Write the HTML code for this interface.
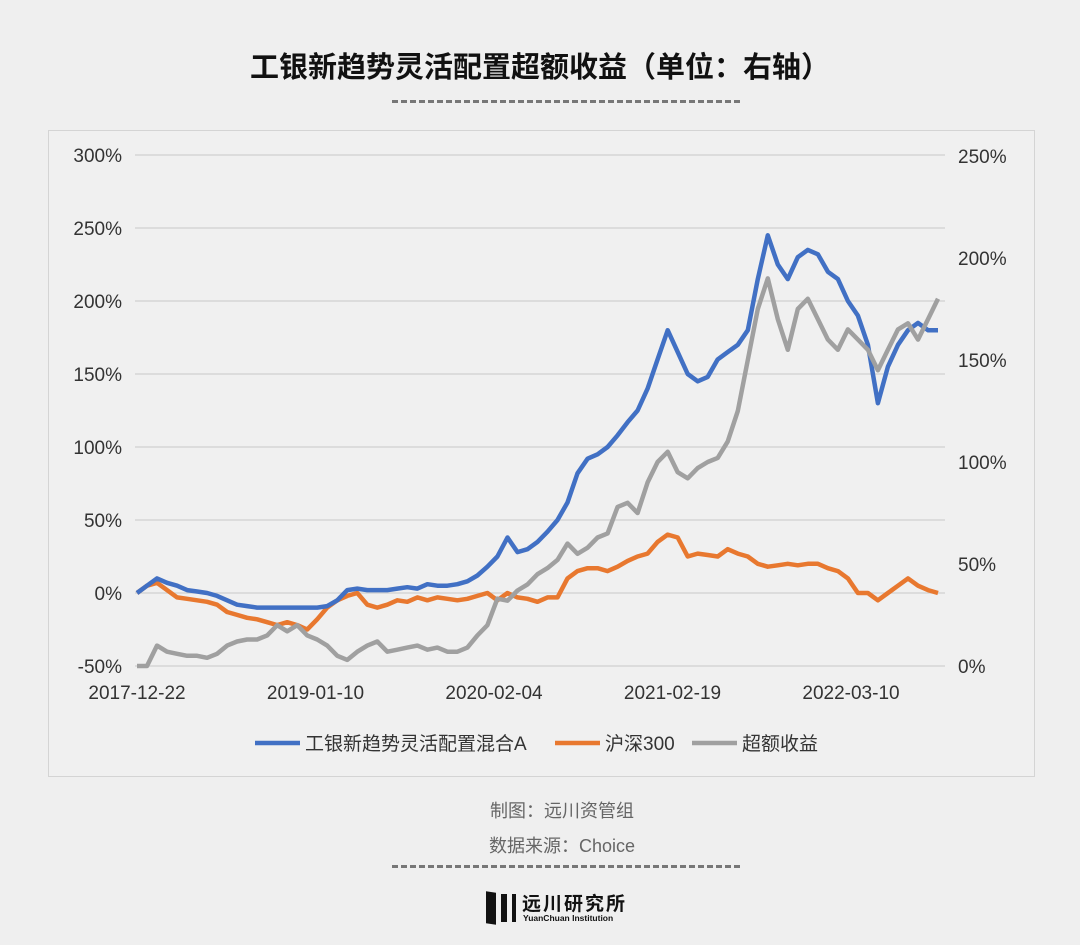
<!DOCTYPE html>
<html><head><meta charset="utf-8">
<style>
html,body{margin:0;padding:0;background:#efefef;}
body{width:1080px;height:945px;position:relative;overflow:hidden;font-family:"Liberation Sans","Noto Sans CJK SC",sans-serif;}
.t{position:absolute;white-space:nowrap;}
</style></head>
<body>
<div class="t" style="left:0;width:1080px;text-align:center;top:44px;font-size:29px;font-weight:bold;color:#111;">工银新趋势灵活配置超额收益（单位：右轴）</div>
<div style="position:absolute;left:392px;top:100px;width:348px;border-top:3px dashed #777;"></div>
<svg id="chart" width="1080" height="945" style="position:absolute;left:0;top:0;">
<rect x="48.5" y="130.5" width="986" height="646" fill="#f0f0f0" stroke="#d4d4d4"/>
</svg>
<div class="t" style="left:0;width:1124px;text-align:center;top:797px;font-size:18px;color:#666;">制图：远川资管组</div>
<div class="t" style="left:0;width:1124px;text-align:center;top:832px;font-size:18px;color:#666;">数据来源：Choice</div>
<div style="position:absolute;left:392px;top:865px;width:348px;border-top:3px dashed #777;"></div>
<div style="position:absolute;left:486px;top:890px;width:160px;height:36px;">
<div style="position:absolute;left:0;top:2px;width:10px;height:32px;background:#111;transform:skewY(8deg);"></div>
<div style="position:absolute;left:15px;top:4px;width:6px;height:28px;background:#111;"></div>
<div style="position:absolute;left:26px;top:4px;width:4px;height:28px;background:#111;"></div>
<div class="t" style="left:36px;top:-1px;font-size:19px;font-weight:bold;color:#111;letter-spacing:2px;">远川研究所</div>
<div class="t" style="left:37px;top:23px;font-size:8.5px;font-weight:bold;color:#111;">YuanChuan Institution</div>
</div>
<script>
const xLabels=["2017-12-22","2019-01-10","2020-02-04","2021-02-19","2022-03-10"];
const leftTicks=[300,250,200,150,100,50,0,-50];
const rightTicks=[250,200,150,100,50,0];
const fund=[0,5,10,7,5,2,1,0,-2,-5,-8,-9,-10,-10,-10,-10,-10,-10,-10,-9,-5,2,3,2,2,2,3,4,3,6,5,5,6,8,12,18,25,38,28,30,35,42,50,62,82,92,95,100,108,117,125,140,160,180,165,150,145,148,160,165,170,180,215,245,225,215,230,235,232,220,215,200,190,170,130,155,170,180,185,180,180];
const hs300=[0,5,7,2,-3,-4,-5,-6,-8,-13,-15,-17,-18,-20,-22,-20,-22,-25,-18,-10,-5,-2,0,-8,-10,-8,-5,-6,-3,-5,-3,-4,-5,-4,-2,0,-5,0,-3,-4,-6,-3,-3,10,15,17,17,15,18,22,25,27,35,40,38,25,27,26,25,30,27,25,20,18,19,20,19,20,20,17,15,10,0,0,-5,0,5,10,5,2,0];
const excess=[0,0,10,7,6,5,5,4,6,10,12,13,13,15,20,17,20,15,13,10,5,3,7,10,12,7,8,9,10,8,9,7,7,9,15,20,33,32,37,40,45,48,52,60,55,58,63,65,78,80,75,90,100,105,95,92,97,100,102,110,125,150,175,190,170,155,175,180,170,160,155,165,160,155,145,155,165,168,160,170,180];
const svg=document.getElementById('chart');
const NS='http://www.w3.org/2000/svg';
const X0=137,X1=938,PL=135,PR=945;
const yL=v=>593-v*73/50;
const yR=v=>666-v*102/50;
const xAt=(i,n)=>X0+(X1-X0)*i/(n-1);
function mk(tag,attrs){const e=document.createElementNS(NS,tag);for(const k in attrs)e.setAttribute(k,attrs[k]);svg.appendChild(e);return e;}
leftTicks.forEach(v=>{
  const g=mk('line',{x1:PL,x2:PR,y1:yL(v),y2:yL(v),stroke:'#d0d0d0','stroke-width':1.3});
  
  
  const t=mk('text',{x:122,y:yL(v)+7,'text-anchor':'end','font-size':19,fill:'#333','font-family':'Liberation Sans, sans-serif'});
  t.textContent=v+'%';
  
  
});
rightTicks.forEach(v=>{
  const t=mk('text',{x:958,y:yR(v)+7,'text-anchor':'start','font-size':19,fill:'#333','font-family':'Liberation Sans, sans-serif'});
  t.textContent=v+'%';
  
  
});
xLabels.forEach((l,i)=>{
  const t=mk('text',{x:137+178.5*i,y:699,'text-anchor':'middle','font-size':19,fill:'#333','font-family':'Liberation Sans, sans-serif'});
  t.textContent=l;
  
  
});
function series(arr,yf,color,name){
  const d=arr.map((v,i)=>(i?'L':'M')+xAt(i,arr.length).toFixed(1)+','+yf(v).toFixed(1)).join(' ');
  const p=mk('path',{d:d,fill:'none',stroke:color,'stroke-width':4.5,'stroke-linejoin':'round'});
  
  
}
series(hs300,yL,'#e8782f','hs300-line');
series(fund,yL,'#4170c4','fund-line');
series(excess,yR,'#a0a0a0','excess-return-line');
const leg=[["工银新趋势灵活配置混合A",'#4170c4',255],["沪深300",'#e8782f',555],["超额收益",'#a0a0a0',692]];
leg.forEach(([l,c,x])=>{
  const ln=mk('line',{x1:x,x2:x+45,y1:743,y2:743,stroke:c,'stroke-width':4.5});
  
  
  const t=mk('text',{x:x+50,y:750,'font-size':19,fill:'#333','font-family':'Liberation Sans, Noto Sans CJK SC, sans-serif'});
  t.textContent=l;
  
  
});
</script>
</body></html>
